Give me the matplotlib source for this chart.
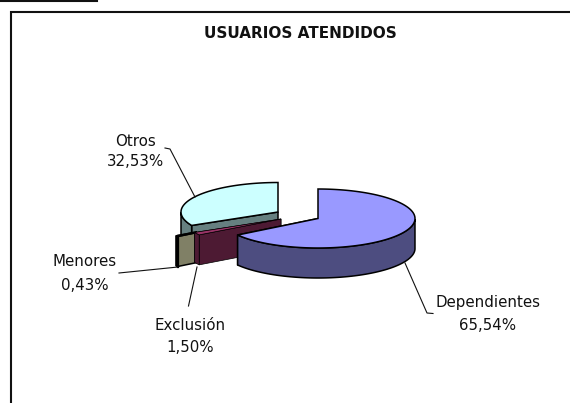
import numpy as np
import matplotlib
matplotlib.use("Agg")
import matplotlib.pyplot as plt
from matplotlib.patches import Polygon, Rectangle

plt.rcParams['font.family'] = ['DejaVu Sans']

title = "USUARIOS ATENDIDOS"
categories = ["Dependientes", "Menores", "Exclusión", "Otros"]
shares = [65.54, 0.43, 1.50, 32.53]
value_labels = ["65,54%", "0,43%", "1,50%", "32,53%"]

top_colors = ["#9999FF", "#FFFFCC", "#993366", "#CCFFFF"]
side_colors = ["#4D4D80", "#808066", "#4D1A33", "#668080"]
# pie centre of each slice after exploding, pixels
centers = [(318, 218.5), (258, 220), (281, 219), (278, 212)]
edge_widths = [1.1, 1.1, 0.5, 1.1]
RX, RY, DEPTH = 97, 29.5, 30
# back to front
draw_order = [3, 1, 2, 0]

W, H = 570, 403
fig = plt.figure(figsize=(W / 100, H / 100), dpi=100)
ax = fig.add_axes([0, 0, 1, 1])
ax.set_xlim(0, W)
ax.set_ylim(H, 0)
ax.axis("off")

# frame, open on the right and the bottom
ax.plot([11, 11, W], [H, 11.5, 11.5], color="#111111", lw=1.5, solid_joinstyle="miter")
ax.plot([0, 97], [0.8, 0.8], color="#111111", lw=1.5)

ax.text(300, 34, title, ha="center", va="center", fontsize=11, fontweight="bold",
        color="#111111")

edges = np.cumsum([0] + shares) / 100.0 * 2 * np.pi


def rim(i, a):
    cx, cy = centers[i]
    return cx + RX * np.sin(a), cy - RY * np.cos(a)


def radial_face(i, a):
    cx, cy = centers[i]
    x, y = rim(i, a)
    return [(cx, cy), (x, y), (x, y + DEPTH), (cx, cy + DEPTH)]


for i in draw_order:
    a0, a1 = edges[i], edges[i + 1]
    cx, cy = centers[i]
    t = np.linspace(a0, a1, max(int((a1 - a0) * 40), 6))
    xs, ys = rim(i, t)
    lw = edge_widths[i]
    patches = []

    # cut faces first, the front one on top
    for a in (a1, a0):
        if np.cos(a) < 0.99:
            patches.append(Polygon(radial_face(i, a), closed=True, fc=side_colors[i],
                                   ec="#000000", lw=lw))

    # outer wall, only the part that faces the viewer
    front = np.cos(t) < 0
    if front.any():
        fx, fy = xs[front], ys[front]
        pts = list(zip(fx, fy)) + list(zip(fx[::-1], fy[::-1] + DEPTH))
        patches.append(Polygon(pts, closed=True, fc=side_colors[i], ec="#000000", lw=lw))

    patches.append(Polygon([(cx, cy)] + list(zip(xs, ys)), closed=True, fc=top_colors[i],
                           ec="#000000", lw=lw))
    for p in patches:
        ax.add_patch(p)
        # the thin Menores slice only shows left of Exclusión
        if categories[i] == "Menores":
            p.set_clip_path(Rectangle((170, 225), 27, 50, transform=ax.transData))

# heavier edge on the thin slice
ax.plot([178, 178], [236, 267], color="#000000", lw=1.6)

# leader lines
leader_x = [[405, 427, 433], [119, 178], [197, 188.5], [165, 170, 195]]
leader_y = [[263, 313, 313.5], [273, 267], [267, 306], [148, 149, 197]]
for lx, ly in zip(leader_x, leader_y):
    ax.plot(lx, ly, color="#111111", lw=0.8)

label_pos = [(488, 303, 326), (85, 262, 285), (190, 325, 347), (135, 141, 162)]
for name, val, (x, y0, y1) in zip(categories, value_labels, label_pos):
    ax.text(x, y0, name, ha="center", va="center", fontsize=10.8, color="#111111")
    ax.text(x, y1, val, ha="center", va="center", fontsize=10.8, color="#111111")

fig.savefig("out.png", dpi=100)
